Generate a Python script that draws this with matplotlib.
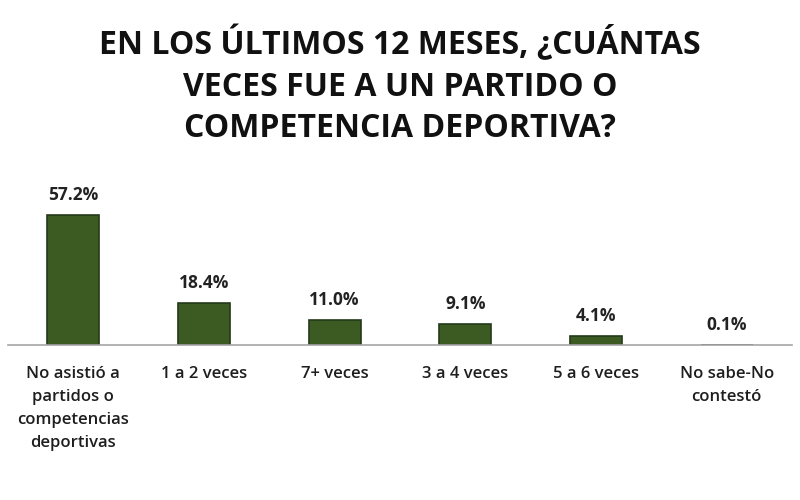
import matplotlib
matplotlib.use('Agg')
import matplotlib.pyplot as plt

plt.rcParams['font.family'] = ['Open Sans', 'DejaVu Sans']

categorias = ['No asistió a\npartidos o\ncompetencias\ndeportivas', '1 a 2 veces', '7+ veces',
              '3 a 4 veces', '5 a 6 veces', 'No sabe-No\ncontestó']
porcentajes = [57.2, 18.4, 11.0, 9.1, 4.1, 0.1]
etiquetas = ['57.2%', '18.4%', '11.0%', '9.1%', '4.1%', '0.1%']

fig = plt.figure(figsize=(8, 5), dpi=100)
ax = fig.add_axes([0.01, 0.31, 0.98, 0.30])

x = range(len(categorias))
ax.bar(x, porcentajes, width=0.4, color='#3b5b23', edgecolor='#24391a', linewidth=1.2, zorder=2)

for i, (v, t) in enumerate(zip(porcentajes, etiquetas)):
    ax.annotate(t, (i, v), xytext=(0, 8), textcoords='offset points', ha='center', va='bottom',
                fontsize=12.5, fontweight='bold', color='#222222', annotation_clip=False)

ax.set_xlim(-0.5, 5.5)
ax.set_ylim(0, 66)
ax.set_xticks(list(x))
ax.set_xticklabels(categorias, fontsize=12, fontweight='semibold', color='#1e1e1e', linespacing=1.6, va='top')
ax.tick_params(axis='x', length=0, pad=15)
ax.set_yticks([])
for s in ['top', 'left', 'right']:
    ax.spines[s].set_visible(False)
ax.spines['bottom'].set_color('#a6a6a6')
ax.spines['bottom'].set_linewidth(1.2)

fig.text(0.5, 0.948, 'EN LOS ÚLTIMOS 12 MESES, ¿CUÁNTAS\nVECES FUE A UN PARTIDO O\nCOMPETENCIA DEPORTIVA?',
         ha='center', va='top', fontsize=23, fontweight='bold', color='#111111', linespacing=1.33)

fig.savefig('out.png', dpi=100, facecolor='white')
